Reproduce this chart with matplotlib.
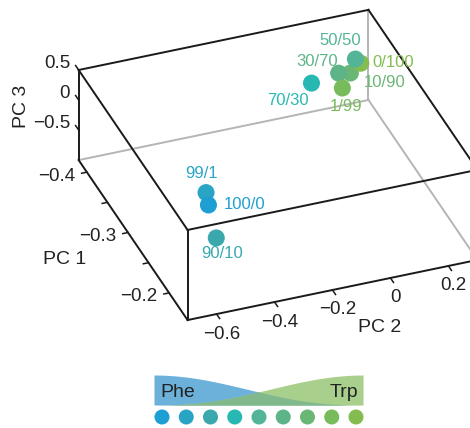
import matplotlib
matplotlib.use('Agg')
import matplotlib.pyplot as plt
import matplotlib.transforms as mtransforms
from mpl_toolkits.mplot3d import proj3d
import numpy as np

plt.rcParams['font.family'] = ['Liberation Sans', 'DejaVu Sans']

# Phe/Trp ratio of each sample and its PCA scores
samples = ['100/0', '99/1', '90/10', '70/30', '50/50', '30/70', '10/90', '1/99', '0/100']
pc1 = [-0.246, -0.256, -0.222, -0.357, -0.370, -0.372, -0.373, -0.358, -0.371]
pc2 = [-0.499, -0.493, -0.506, 0.014, 0.184, 0.129, 0.171, 0.122, 0.204]
pc3 = [-0.20, -0.10, -0.50, 0.20, 0.30, 0.10, 0.05, 0.00, 0.20]
colors = ['#1e9fd4', '#2aa4c4', '#3aa8ac', '#28b8b4', '#52b598',
          '#5db488', '#6ab674', '#78bb5c', '#84bc50']

pc1_lim = (-0.42, -0.155)
pc2_lim = (-0.70, 0.30)
pc3_lim = (-1.0, 0.5)
pc1_ticks = [-0.4, -0.35, -0.3, -0.25, -0.2]
pc1_ticklabels = {-0.4: '\u22120.4', -0.3: '\u22120.3', -0.2: '\u22120.2'}
pc2_ticks = [-0.6, -0.4, -0.2, 0, 0.2]
pc2_ticklabels = ['\u22120.6', '\u22120.4', '\u22120.2', '0', '0.2']
pc3_ticks = [0.5, 0, -0.5]
pc3_ticklabels = ['0.5', '0', '\u22120.5']

# label offsets in pixels (dx, dy) and alignment
lab_off = [(15, 0), (-4, 19), (6, -16), (-24, -17), (-15, 19),
           (-22, 12), (13, -9), (4, -18), (12, 1)]
lab_ha = ['left', 'center', 'center', 'center', 'center',
          'center', 'left', 'center', 'left']

W, H = 470, 428
fig = plt.figure(figsize=(W / 100, H / 100), dpi=100)
ax = fig.add_axes([0.1132, 0.0893, 0.9315, 1.0229], projection='3d',
                  proj_type='ortho', computed_zorder=False)
ax.set_xlim(*pc1_lim)
ax.set_ylim(*pc2_lim)
ax.set_zlim(*pc3_lim)
ax.set_box_aspect((1, 1, 0.349))
ax.view_init(elev=33.5, azim=-20.6)
ax.set_axis_off()
ax.set_facecolor('none')
M = ax.get_proj()

lims = [pc1_lim, pc2_lim, pc3_lim]
r1 = pc1_lim[1] - pc1_lim[0]
r2 = pc2_lim[1] - pc2_lim[0]
hidden = (0, 1, 0)
for d in range(3):
    o = [a for a in range(3) if a != d]
    for a in (0, 1):
        for b in (0, 1):
            p = [0, 0, 0]
            p[o[0]] = a
            p[o[1]] = b
            pts = []
            for t in (0, 1):
                q = list(p)
                q[d] = t
                pts.append([lims[n][q[n]] for n in range(3)])
            pts = np.array(pts)
            gray = p[o[0]] == hidden[o[0]] and p[o[1]] == hidden[o[1]]
            ax.plot(pts[:, 0], pts[:, 1], pts[:, 2],
                    color='#b5b5b5' if gray else '#1a1a1a', lw=1.4,
                    zorder=1 if gray else 2, solid_capstyle='projecting')


def label3d(x, y, z, s, dx, dy, **kw):
    # project the 3D point, then place a plain 2D text with a pixel offset
    xp, yp, _ = proj3d.proj_transform(x, y, z, M)
    tr = mtransforms.offset_copy(ax.transData, fig=fig, x=dx, y=dy, units='dots')
    ax.text2D(xp, yp, s, transform=tr, **kw)


tick_kw = dict(color='#1a1a1a', lw=1.1, zorder=2)
txt_kw = dict(fontsize=13.5, color='#222222', zorder=5)

# PC3 ticks on the left back vertical edge
x0, y0, z0 = pc1_lim[0], pc2_lim[0], pc3_lim[0]
for v, s in zip(pc3_ticks, pc3_ticklabels):
    ax.plot([x0, x0 - 0.028 * r1], [y0, y0], [v, v], **tick_kw)
    label3d(x0, y0, v, s, -8.5, 6.5, ha='right', va='center', **txt_kw)

# PC1 ticks on the left bottom edge
for v in pc1_ticks:
    ax.plot([v, v], [y0, y0 - 0.018 * r2], [z0, z0], **tick_kw)
    if v in pc1_ticklabels:
        label3d(v, y0, z0, pc1_ticklabels[v], -12, -4, ha='right', va='center', **txt_kw)

# PC2 ticks on the front bottom edge
x1 = pc1_lim[1]
for v, s in zip(pc2_ticks, pc2_ticklabels):
    ax.plot([x1, x1 + 0.028 * r1], [v, v], [z0, z0], **tick_kw)
    label3d(x1, v, z0, s, 5, -20, ha='center', va='center', **txt_kw)

ax.scatter(pc1, pc2, pc3, s=150, c=colors, depthshade=False, linewidths=0, zorder=4)
for i, s in enumerate(samples):
    label3d(pc1[i], pc2[i], pc3[i], s, *lab_off[i], ha=lab_ha[i], va='center',
            color=colors[i], fontsize=12, zorder=6)

fig.text(22 / W, 1 - 106 / H, 'PC 3', rotation=90, ha='center', va='center',
         fontsize=14, color='#222222')
fig.text(65 / W, 1 - 260 / H, 'PC 1', ha='center', va='center', fontsize=14, color='#222222')
fig.text(380 / W, 1 - 328 / H, 'PC 2', ha='center', va='center', fontsize=14, color='#222222')

# colour key below the plot
lax = fig.add_axes([145 / W, 0, 230 / W, 60 / H])
lax.set_xlim(-0.701, 8.784)
lax.set_ylim(-0.454, 2.021)
lax.axis('off')
bx0, bx1, by0, bh = -0.33, 8.29, 0.495, 1.237
t = np.linspace(0, 1, 300)
xx = bx0 + t * (bx1 - bx0)
hb = ((1 + np.cos(np.pi * t)) / 2) ** 1.2
hg = hb[::-1]
lax.fill_between(xx, by0, by0 + bh * hb, color='#6cb1da', lw=0)
lax.fill_between(xx, by0, by0 + bh * hg, color='#a9cf8d', lw=0)
lax.fill_between(xx, by0, by0 + bh * np.minimum(hb, hg), color='#82b98c', lw=0)
lax.text(bx0 + 0.25, by0 + bh * 0.42, 'Phe', ha='left', va='center', fontsize=14, color='#222222')
lax.text(bx1 - 0.2, by0 + bh * 0.42, 'Trp', ha='right', va='center', fontsize=14, color='#222222')
lax.scatter(np.arange(len(samples)), np.zeros(len(samples)), s=117, c=colors, linewidths=0)

fig.savefig('out.png', dpi=100)
